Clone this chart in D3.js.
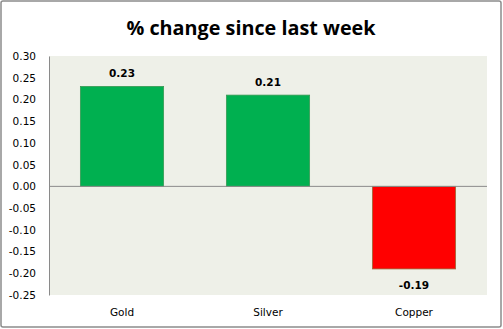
<!DOCTYPE html>
<html>
<head>
<meta charset="utf-8">
<script src="https://cdn.jsdelivr.net/npm/d3@7"></script>
<style>
  html, body { margin: 0; padding: 0; background: #fff; }
  svg { display: block; }
</style>
</head>
<body>
<svg id="chart" width="503" height="329"></svg>
<script>
// Weekly percentage change by metal
const categories = ["Gold", "Silver", "Copper"];
const changes = [0.23, 0.21, -0.19];
const tickValues = [0.30, 0.25, 0.20, 0.15, 0.10, 0.05, 0.00, -0.05, -0.10, -0.15, -0.20, -0.25];
const title = "% change since last week";

const W = 503, H = 329;
const margin = { left: 49, right: 16, top: 56, bottom: 34 };
const svg = d3.select("#chart");

// outer frame
svg.append("rect")
  .attr("x", 1).attr("y", 1)
  .attr("width", W - 3).attr("height", H - 3)
  .attr("rx", 2)
  .attr("fill", "#fff")
  .attr("stroke", "#8c8c8c")
  .attr("stroke-width", 1.5);

const x = d3.scaleBand()
  .domain(categories)
  .range([margin.left, W - margin.right])
  .paddingInner(0.43)
  .paddingOuter(0.215);

const y = d3.scaleLinear()
  .domain([-0.25, 0.30])
  .range([H - margin.bottom, margin.top]);

// plot area background
svg.append("rect")
  .attr("x", margin.left)
  .attr("y", y(0.30))
  .attr("width", W - margin.right - margin.left)
  .attr("height", y(-0.25) - y(0.30))
  .attr("fill", "#eef0e8");

// title
svg.append("text")
  .attr("x", 251)
  .attr("y", 34.5)
  .attr("text-anchor", "middle")
  .attr("font-family", "'Open Sans', sans-serif")
  .attr("font-weight", "bold")
  .attr("font-size", 19.8)
  .attr("fill", "#000")
  .text(title);

// y axis
const yAxis = d3.axisLeft(y)
  .tickValues(tickValues)
  .tickFormat(d3.format(".2f"))
  .tickSize(0)
  .tickPadding(13);

const gy = svg.append("g")
  .attr("transform", `translate(${margin.left},0)`)
  .call(yAxis);
gy.select(".domain").attr("stroke", "#8a8a8a");
gy.selectAll("text")
  .attr("font-family", "'DejaVu Sans', Verdana, sans-serif")
  .attr("font-size", 10.5)
  .attr("fill", "#000")
  .text(d => d3.format(".2f")(d).replace("−", "-"));

// bars
svg.append("g").selectAll("rect")
  .data(categories)
  .join("rect")
  .attr("x", d => x(d))
  .attr("width", x.bandwidth())
  .attr("y", (d, i) => y(Math.max(0, changes[i])))
  .attr("height", (d, i) => Math.abs(y(changes[i]) - y(0)))
  .attr("fill", (d, i) => changes[i] >= 0 ? "#00b050" : "#ff0000")
  .attr("stroke", (d, i) => changes[i] >= 0 ? "#3a9a55" : "#9a6a3a")
  .attr("stroke-width", 0.8);

// zero line
svg.append("line")
  .attr("x1", margin.left)
  .attr("x2", W - margin.right)
  .attr("y1", y(0))
  .attr("y2", y(0))
  .attr("stroke", "#8a8a8a")
  .attr("stroke-width", 1);

// value labels
svg.append("g").selectAll("text")
  .data(categories)
  .join("text")
  .attr("x", d => x(d) + x.bandwidth() / 2)
  .attr("y", (d, i) => changes[i] >= 0 ? y(changes[i]) - 9 : y(changes[i]) + 20)
  .attr("text-anchor", "middle")
  .attr("font-family", "'DejaVu Sans', Verdana, sans-serif")
  .attr("font-weight", "bold")
  .attr("font-size", 10.5)
  .attr("fill", "#000")
  .text((d, i) => d3.format(".2f")(changes[i]).replace("−", "-"));

// category labels
svg.append("g").selectAll("text")
  .data(categories)
  .join("text")
  .attr("x", d => x(d) + x.bandwidth() / 2)
  .attr("y", 316)
  .attr("text-anchor", "middle")
  .attr("font-family", "'DejaVu Sans', Verdana, sans-serif")
  .attr("font-size", 10.5)
  .attr("fill", "#000")
  .text(d => d);
</script>
</body>
</html>
